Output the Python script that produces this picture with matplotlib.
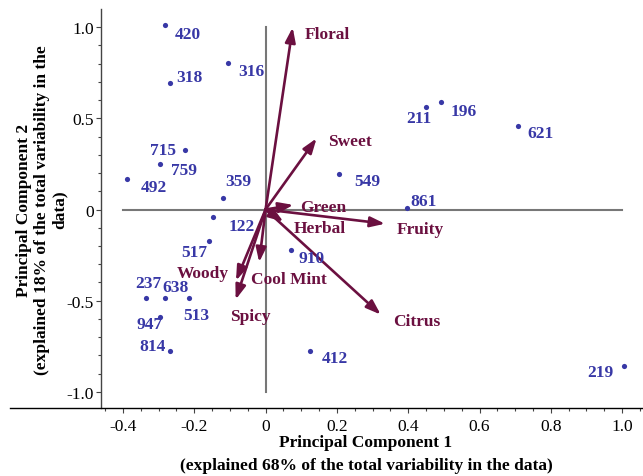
import numpy as np
import matplotlib
matplotlib.use("Agg")
import matplotlib.pyplot as plt
from matplotlib.ticker import MultipleLocator, FixedLocator
from matplotlib.lines import Line2D

# Puntuaciones de las muestras (PC1, PC2)
samples = ["420", "316", "318", "715", "759", "492", "359", "122", "517",
           "237", "638", "513", "947", "814", "549", "861", "910", "211",
           "196", "621", "219", "412"]
pc1 = [-0.282, -0.106, -0.269, -0.227, -0.295, -0.390, -0.120, -0.147, -0.160,
       -0.335, -0.282, -0.215, -0.295, -0.269, 0.206, 0.396, 0.070, 0.451,
       0.491, 0.707, 1.005, 0.124]
pc2 = [1.011, 0.801, 0.695, 0.328, 0.248, 0.169, 0.065, -0.041, -0.173,
       -0.487, -0.487, -0.487, -0.589, -0.777, 0.196, 0.010, -0.224, 0.563,
       0.589, 0.459, -0.856, -0.775]

# Cargas de los atributos
attributes = ["Floral", "Sweet", "Green", "Fruity", "Herbal", "Citrus",
              "Cool Mint", "Woody", "Spicy"]
load1 = [0.076, 0.143, 0.078, 0.335, 0.050, 0.323, -0.018, -0.083, -0.084]
load2 = [0.998, 0.390, 0.025, -0.078, -0.067, -0.576, -0.289, -0.390, -0.494]

# Etiquetas de los ejes
xticks = [-0.4, -0.2, 0, 0.2, 0.4, 0.6, 0.8, 1.0]
xtick_labels = ["-0.4", "-0.2", "0", "0.2", "0.4", "0.6", "0.8", "1.0"]
yticks = [-1.0, -0.5, 0, 0.5, 1.0]
ytick_labels = ["-1.0", "-0.5", "0", "0.5", "1.0"]

# desplazamiento de etiquetas (pixeles, borde izquierdo / centro vertical)
sample_off = [(10, -9), (10, -8), (7, 6), (-35, 0), (11, -6), (14, -8), (2, 17),
              (15, -9), (-27, -11), (-11, 15), (-3, 11), (-6, -17), (-24, -7),
              (-30, 5), (15, -7), (4, 7), (8, -8), (-20, -11), (10, -9),
              (10, -7), (-37, -6), (12, -7)]
attr_off = [(12, -7), (11, -3), (7, -2), (12, -5), (10, -6), (12, -6),
            (-8, -17), (-59, 8), (-6, -16)]

blue = "#3838a6"
maroon = "#6b1040"
serif = "Liberation Serif"
plt.rcParams["font.family"] = [serif, "DejaVu Serif"]

fig = plt.figure(figsize=(6.43, 4.77), dpi=100)
ax = fig.add_axes([100.7 / 643, 1 - 409 / 477, 1 - 100.7 / 643, (409 - 10) / 477])
ax.set_xlim(-0.4625, 1.0586)
ax.set_ylim(-1.088, 1.099)

# lineas de referencia
ax.plot([-0.4, 1.0], [0, 0], color="#777777", lw=1.5, zorder=1)
ax.plot([0, 0], [-1.0, 1.0], color="#777777", lw=1.5, zorder=1)

# flechas de atributos
for name, x, y, off in zip(attributes, load1, load2, attr_off):
    ax.annotate("", xy=(x, y), xytext=(0, 0),
                arrowprops=dict(arrowstyle="-|>,head_length=0.8,head_width=0.28",
                                lw=1.9, color=maroon, shrinkA=0, shrinkB=0,
                                mutation_scale=11), zorder=3)
    ax.annotate(name, xy=(x, y), xytext=off, textcoords="offset pixels",
                ha="left", va="center", color=maroon, fontsize=12.5,
                fontweight="bold", zorder=4)

# muestras
ax.scatter(pc1, pc2, s=14, color=blue, zorder=5, linewidths=0)
for name, x, y, off in zip(samples, pc1, pc2, sample_off):
    ax.annotate(name, xy=(x, y), xytext=off, textcoords="offset pixels",
                ha="left", va="center", color=blue, fontsize=12.5,
                fontweight="bold", zorder=6)

# ejes
for s in ["top", "right", "bottom"]:
    ax.spines[s].set_visible(False)
ax.spines["left"].set_color("#444444")
ax.spines["left"].set_linewidth(1.0)
fig.add_artist(Line2D([10 / 643, 1.0], [1 - 409 / 477] * 2, color="black", lw=1.0))

ax.xaxis.set_major_locator(FixedLocator(xticks))
ax.xaxis.set_minor_locator(MultipleLocator(0.05))
ax.yaxis.set_major_locator(FixedLocator(yticks))
ax.yaxis.set_minor_locator(MultipleLocator(0.1))
ax.set_xticklabels(xtick_labels, fontfamily=serif, fontsize=12.5)
ax.set_yticklabels(ytick_labels, fontfamily=serif, fontsize=12.5)
ax.tick_params(axis="both", which="major", length=3.5, width=0.8,
               color="#444444", pad=1.5)
ax.tick_params(axis="both", which="minor", length=2.5, width=0.8, color="#444444")
ax.tick_params(axis="x", pad=4)

fig.text(366 / 643, 1 - 443 / 477, "Principal Component 1", ha="center", va="center",
         fontsize=12.5, fontweight="bold")
fig.text(366 / 643, 1 - 466 / 477, "(explained 68% of the total variability in the data)",
         ha="center", va="center", fontsize=12.5, fontweight="bold")
fig.text(42 / 643, 1 - 210 / 477,
         "Principal Component 2\n(explained 18% of the total variability in the\ndata)",
         ha="center", va="center", rotation=90, fontsize=12.5, fontweight="bold",
         linespacing=1.15, multialignment="center")

fig.savefig("out.png", dpi=100)
